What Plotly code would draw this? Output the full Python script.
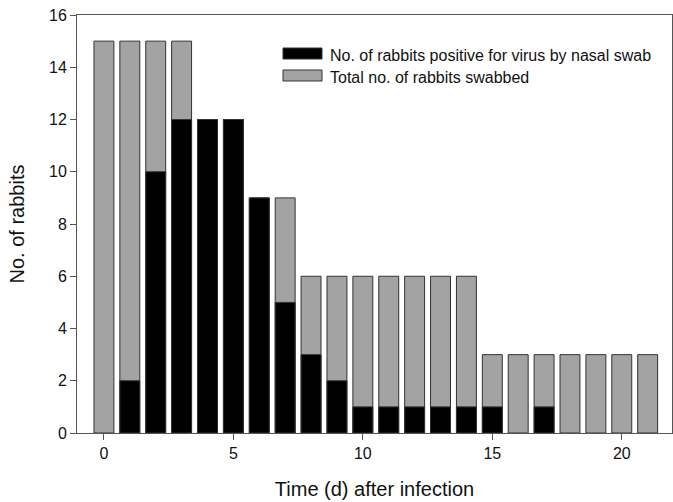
import plotly.graph_objects as go

days = list(range(22))
total_swabbed = [15, 15, 15, 15, 12, 12, 9, 9, 6, 6, 6, 6, 6, 6, 6, 3, 3, 3, 3, 3, 3, 3]
positive = [0, 2, 10, 12, 12, 12, 9, 5, 3, 2, 1, 1, 1, 1, 1, 1, 0, 1, 0, 0, 0, 0]
legend_labels = ["No. of rabbits positive for virus by nasal swab", "Total no. of rabbits swabbed"]
legend_colors = ["#000000", "#a3a3a3"]

W, H = 673, 502
L, T = 77, 15
R = W - 672
B = H - 433
pw, ph = W - L - R, H - T - B

fig = go.Figure()
fig.add_trace(go.Bar(x=days, y=total_swabbed, width=0.77, marker=dict(color=legend_colors[1], line=dict(color="#333333", width=1)),
                     name=legend_labels[1], showlegend=False))
pos_plot = [v if v > 0 else None for v in positive]
fig.add_trace(go.Bar(x=days, y=pos_plot, width=0.77, marker=dict(color=legend_colors[0], line=dict(color="#333333", width=1)),
                     name=legend_labels[0], showlegend=False))

def px2paper(x, y):
    return (x - L) / pw, (H - B - y) / ph

shapes = []
annotations = []
box_rows = [(48, 59), (70, 81)]
text_rows = [55, 77]
for (y0, y1), ty_px, col, lab in zip(box_rows, text_rows, legend_colors, legend_labels):
    xa, ya = px2paper(283, y1)
    xb, yb = px2paper(322, y0)
    shapes.append(dict(type="rect", xref="paper", yref="paper", x0=xa, x1=xb, y0=ya, y1=yb,
                       fillcolor=col, line=dict(color="#333333", width=1)))
    tx, ty = px2paper(328, ty_px)
    annotations.append(dict(xref="paper", yref="paper", x=tx, y=ty, text=lab, showarrow=False,
                            xanchor="left", yanchor="middle", font=dict(size=16, color="#111111")))

fig.update_layout(
    width=W, height=H,
    margin=dict(l=L, r=R, t=T, b=B),
    barmode="overlay",
    plot_bgcolor="white", paper_bgcolor="white",
    font=dict(family="Liberation Sans, Arial, sans-serif", size=16, color="#111111"),
    shapes=shapes, annotations=annotations,
    xaxis=dict(range=[-1.04, 21.94], tickvals=[0, 5, 10, 15, 20], ticks="outside", ticklen=6,
               tickcolor="#555555", showline=True, linecolor="#555555", linewidth=1, mirror=True,
               showgrid=False, zeroline=False, tickfont=dict(size=16), automargin=False,
               title=dict(text="Time (d) after infection", font=dict(size=20), standoff=20)),
    yaxis=dict(range=[0, 16], tickvals=list(range(0, 17, 2)), ticks="outside", ticklen=6,
               tickcolor="#555555", showline=True, linecolor="#555555", linewidth=1, mirror=True,
               showgrid=False, zeroline=False, tickfont=dict(size=16), automargin=False,
               title=dict(text="No. of rabbits", font=dict(size=20), standoff=19)),
)
fig.write_html("out.html", config={"displayModeBar": False},
               post_script="document.body.style.margin='0';document.body.style.overflow='hidden';")
